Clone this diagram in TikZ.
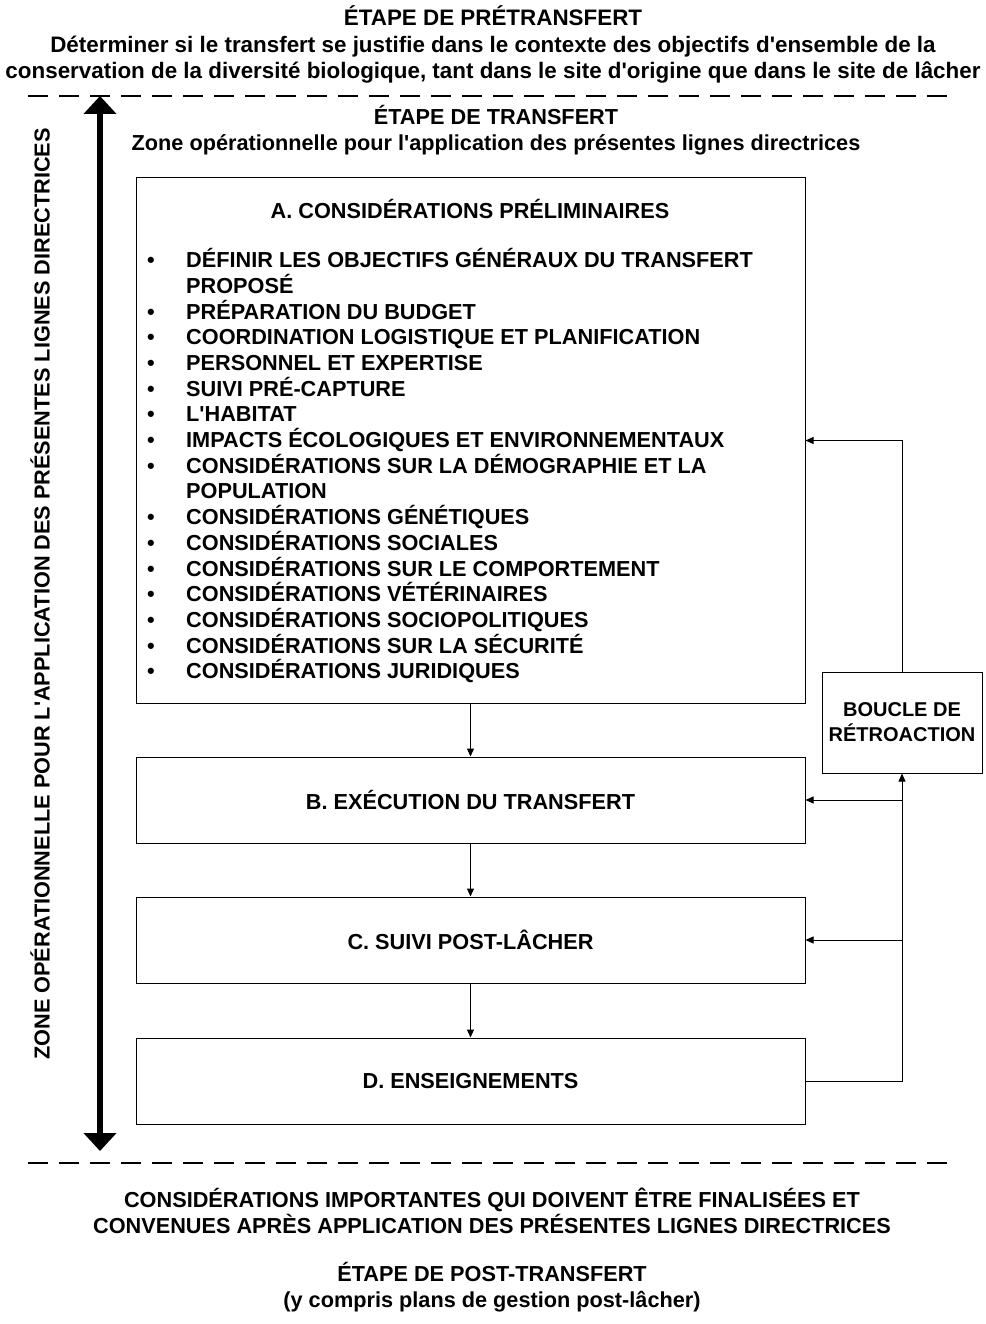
\documentclass[tikz,border=0pt]{standalone}
\usepackage{fontspec}
\setmainfont{Liberation Sans}
\usetikzlibrary{arrows.meta,positioning}

\tikzset{
	txt/.style={font=\bfseries\fontsize{21.7}{26.2}\selectfont, inner sep=0pt, align=center},
	etape/.style={draw, line width=1pt, minimum width=669pt, inner sep=0pt, txt},
	fleche/.style={line width=1pt, -{Triangle[length=8pt,width=7pt]}},
	trait/.style={dashed, line width=2.4pt, dash pattern=on 20pt off 11pt}
}
\newcommand{\apos}{\textquotesingle}

\begin{document}
\begin{tikzpicture}[x=1pt,y=-1pt]
		\useasboundingbox (0,0) rectangle (985,1324);
		% Pretransfert
		\node [txt, font=\bfseries\fontsize{22.4}{26.5}\selectfont] (pre) at (493,44.5) {ÉTAPE DE PRÉTRANSFERT\\Déterminer si le transfert se justifie dans le contexte des objectifs d\apos ensemble de la\\conservation de la diversité biologique, tant dans le site d\apos origine que dans le site de lâcher};
		\coordinate (h1) at (28,96);
		\coordinate (h2) at (948,96);
		\draw [trait] (h1) -- (h2);
		% Transfert
		\node [txt] (trans) at (496,130.5) {ÉTAPE DE TRANSFERT\\Zone opérationnelle pour l\apos application des présentes lignes directrices};
		% Zone operationnelle
		\coordinate (zh) at (100,96);
		\coordinate (zb) at (100,1151);
		\draw [line width=6pt, {Triangle[length=18pt,width=32pt]}-{Triangle[length=18pt,width=32pt]}] (zh) -- (zb);
		\node [txt, rotate=90] (zone) at (40,594) {ZONE OPÉRATIONNELLE POUR L\apos APPLICATION DES PRÉSENTES LIGNES DIRECTRICES};
		% Etapes A-D
		\node [etape, minimum height=525pt] (A) at (470.5,440.5) {};
		\node [etape, minimum height=86pt] (B) at (470.5,800) {B. EXÉCUTION DU TRANSFERT};
		\node [etape, minimum height=86pt] (C) at (470.5,940) {C. SUIVI POST-LÂCHER};
		\node [etape, minimum height=86pt] (D) at (470.5,1081) {D. ENSEIGNEMENTS};
		\node [txt] (titreA) at (470,209) {A. CONSIDÉRATIONS PRÉLIMINAIRES};
		% Liste
		\foreach \i/\b/\t in {0/1/DÉFINIR LES OBJECTIFS GÉNÉRAUX DU TRANSFERT, 1/0/PROPOSÉ, 2/1/PRÉPARATION DU BUDGET, 3/1/COORDINATION LOGISTIQUE ET PLANIFICATION, 4/1/PERSONNEL ET EXPERTISE, 5/1/SUIVI PRÉ-CAPTURE, 6/1/L\apos HABITAT, 7/1/IMPACTS ÉCOLOGIQUES ET ENVIRONNEMENTAUX, 8/1/CONSIDÉRATIONS SUR LA DÉMOGRAPHIE ET LA, 9/0/POPULATION, 10/1/CONSIDÉRATIONS GÉNÉTIQUES, 11/1/CONSIDÉRATIONS SOCIALES, 12/1/CONSIDÉRATIONS SUR LE COMPORTEMENT, 13/1/CONSIDÉRATIONS VÉTÉRINAIRES, 14/1/CONSIDÉRATIONS SOCIOPOLITIQUES, 15/1/CONSIDÉRATIONS SUR LA SÉCURITÉ, 16/1/CONSIDÉRATIONS JURIDIQUES} {
			\node [txt, anchor=base west] (l\i) at (186,267.6+25.7*\i) {\t};
			\ifnum\b=1
				\node [txt, anchor=base west] (p\i) at (147,267.6+25.7*\i) {•};
			\fi
		}
		% Fleches
		\draw [fleche] (A) -- (B);
		\draw [fleche] (B) -- (C);
		\draw [fleche] (C) -- (D);
		% Boucle de retroaction
		\node [draw, line width=1pt, minimum width=160pt, minimum height=101pt, txt, font=\bfseries\fontsize{20}{25}\selectfont] (boucle) at (902,722.5) {BOUCLE DE\\RÉTROACTION};
		\draw [fleche] (boucle.north) |- (A.east);
		\draw [fleche] (D.east) -| (boucle.south);
		\draw [fleche] (boucle.south |- B.east) -- (B.east);
		\draw [fleche] (boucle.south |- C.east) -- (C.east);
		% Post-transfert
		\coordinate (b1) at (28,1163);
		\coordinate (b2) at (948,1163);
		\draw [trait] (b1) -- (b2);
		\node [txt] (consid) at (492,1211) {CONSIDÉRATIONS IMPORTANTES QUI DOIVENT ÊTRE FINALISÉES ET\\CONVENUES APRÈS APPLICATION DES PRÉSENTES LIGNES DIRECTRICES};
		\node [txt] (post) at (492,1287.5) {ÉTAPE DE POST-TRANSFERT\\(y compris plans de gestion post-lâcher)};
\end{tikzpicture}
\end{document}
